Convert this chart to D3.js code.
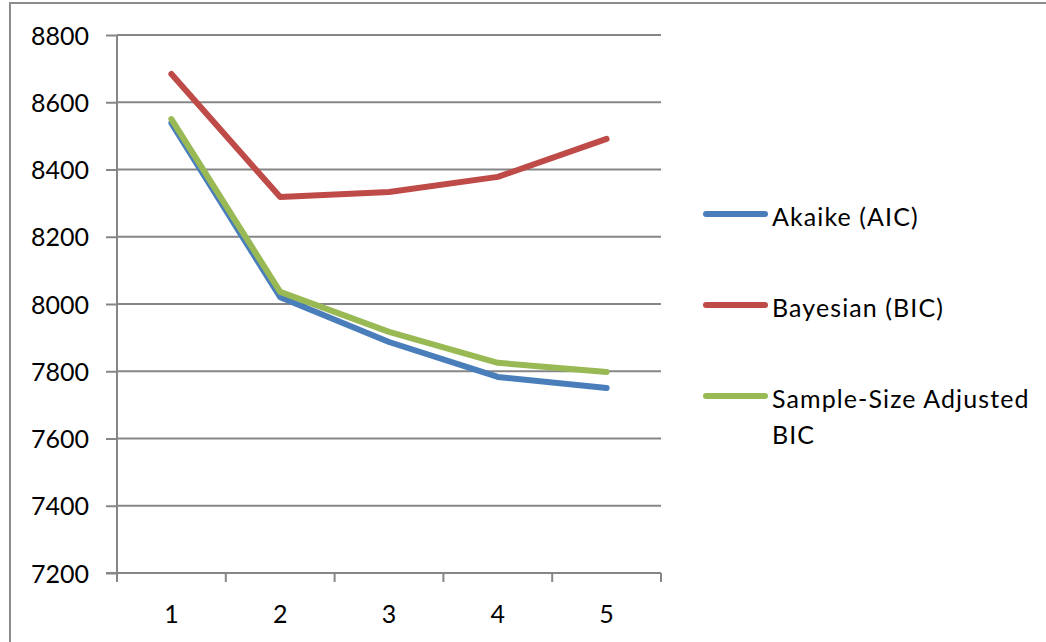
<!DOCTYPE html>
<html>
<head>
<meta charset="utf-8">
<script src="https://cdn.jsdelivr.net/npm/d3@7"></script>
<style>
  html, body { margin: 0; padding: 0; background: #fff; }
  svg { display: block; }
  text { font-family: Lato, "Open Sans", sans-serif; fill: #000; }
</style>
</head>
<body>
<svg id="chart" width="1046" height="642"></svg>
<script>
// Number of latent classes on the x axis
const categories = ["1", "2", "3", "4", "5"];
// Information criteria per class count
const aic = [8538, 8020, 7887, 7783, 7750];
const bic = [8684, 8318, 8333, 8378, 8491];
const sabic = [8550, 8036, 7917, 7825, 7798];
const yTicks = [7200, 7400, 7600, 7800, 8000, 8200, 8400, 8600, 8800];
const seriesNames = ["Akaike (AIC)", "Bayesian (BIC)", "Sample-Size Adjusted BIC"];
const seriesColors = ["#4a7ebb", "#be4b48", "#98b954"];

const series = [aic, bic, sabic].map((values, i) => ({
  name: seriesNames[i], color: seriesColors[i], values
}));

const svg = d3.select("#chart");
const plot = { left: 117, right: 661, top: 35, bottom: 573 };
const fontSize = 25;

// Outer chart frame
svg.append("path")
  .attr("d", "M10,660 L10,3 L1060,3")
  .attr("fill", "none")
  .attr("stroke", "#8c8c8c")
  .attr("stroke-width", 2);

const x = d3.scaleBand().domain(categories).range([plot.left, plot.right]);
const y = d3.scaleLinear().domain([7200, 8800]).range([plot.bottom, plot.top]);

// Horizontal gridlines
svg.append("g").selectAll("line").data(yTicks).join("line")
  .attr("x1", plot.left).attr("x2", plot.right)
  .attr("y1", d => y(d)).attr("y2", d => y(d))
  .attr("stroke", "#868686").attr("stroke-width", 2);

// Y axis
const yAxis = svg.append("g")
  .attr("transform", `translate(${plot.left},0)`)
  .call(d3.axisLeft(y).tickValues(yTicks).tickSize(11).tickPadding(17).tickFormat(d3.format("d")));
yAxis.selectAll("line, path").attr("stroke", "#868686").attr("stroke-width", 2);
yAxis.select(".domain").attr("d", `M0,${plot.top}V${plot.bottom}`);
yAxis.selectAll("text")
  .attr("font-size", fontSize)
  .attr("font-family", "Lato, sans-serif")
  .attr("fill", "#000")
  .attr("dy", "0.36em");

// X axis with tick marks at category boundaries
const xAxis = svg.append("g").attr("transform", `translate(0,${plot.bottom})`);
xAxis.append("line").attr("x1", plot.left - 11).attr("x2", plot.right)
  .attr("stroke", "#868686").attr("stroke-width", 2);
const bounds = categories.map(c => x(c)).concat([plot.right]);
xAxis.selectAll("line.tick").data(bounds).join("line")
  .attr("class", "tick")
  .attr("x1", d => d).attr("x2", d => d).attr("y1", 0).attr("y2", 9)
  .attr("stroke", "#868686").attr("stroke-width", 2);
xAxis.selectAll("text").data(categories).join("text")
  .attr("x", d => x(d) + x.bandwidth() / 2)
  .attr("y", 50)
  .attr("text-anchor", "middle")
  .attr("font-size", fontSize)
  .text(d => d);

// Series lines
const line = d3.line()
  .x((d, i) => x(categories[i]) + x.bandwidth() / 2)
  .y(d => y(d));
svg.append("g").selectAll("path").data(series).join("path")
  .attr("d", d => line(d.values))
  .attr("fill", "none")
  .attr("stroke", d => d.color)
  .attr("stroke-width", 6)
  .attr("stroke-linecap", "round")
  .attr("stroke-linejoin", "round");

// Legend
const legendRows = [
  { y: 214, lines: ["Akaike (AIC)"] },
  { y: 305, lines: ["Bayesian (BIC)"] },
  { y: 396, lines: ["Sample-Size Adjusted", "BIC"] }
];
const legend = svg.append("g");
series.forEach((s, i) => {
  const row = legendRows[i];
  legend.append("line")
    .attr("x1", 706).attr("x2", 765)
    .attr("y1", row.y).attr("y2", row.y)
    .attr("stroke", s.color).attr("stroke-width", 6)
    .attr("stroke-linecap", "round");
  row.lines.forEach((t, j) => {
    legend.append("text")
      .attr("x", 772)
      .attr("y", row.y + 12 + j * 36)
      .attr("font-size", fontSize)
      .attr("letter-spacing", 1.1)
      .text(t);
  });
});
</script>
</body>
</html>
